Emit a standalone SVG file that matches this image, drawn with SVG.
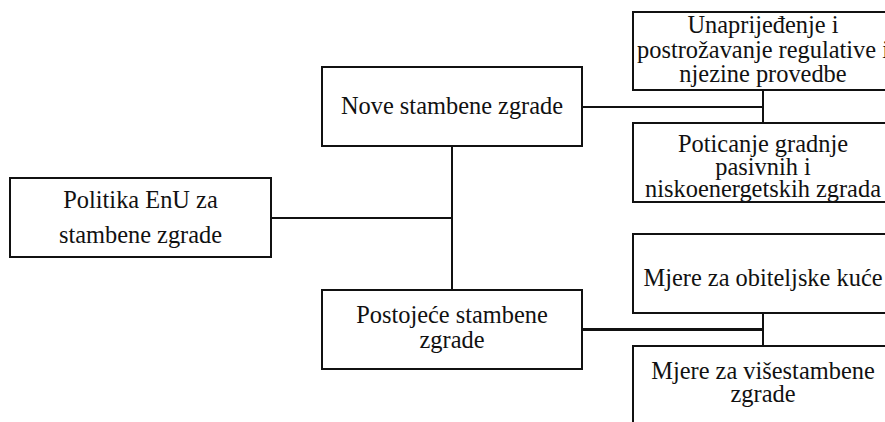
<svg xmlns="http://www.w3.org/2000/svg" width="885" height="422" viewBox="0 0 885 422">
<style>
.box{fill:#fff;stroke:#111;stroke-width:2}
.t{font-size:24.4px;fill:#111;text-anchor:middle}
.c{stroke:#111;stroke-width:2;fill:none}
</style>
<rect width="885" height="422" fill="#fff"/>
<g id="connectors">
<line class="c" x1="271" y1="218" x2="452" y2="218"/>
<line class="c" x1="452" y1="146" x2="452" y2="290"/>
<line class="c" x1="582" y1="107" x2="763" y2="107"/>
<line class="c" x1="763" y1="90" x2="763" y2="123"/>
<line class="c" x1="582" y1="329.5" x2="763" y2="329.5" style="stroke-width:3"/>
<line class="c" x1="763" y1="313" x2="763" y2="346"/>
</g>
<g font-family="'Liberation Serif', 'Times New Roman', 'DejaVu Serif', serif">
<g id="politika">
<rect class="box" x="10" y="178" width="261" height="79"/>
<text class="t" x="140.5" y="208">Politika EnU za</text>
<text class="t" x="140.5" y="243">stambene zgrade</text>
</g>
<g id="nove">
<rect class="box" x="322" y="67" width="260" height="79"/>
<text class="t" x="452" y="114">Nove stambene zgrade</text>
</g>
<g id="postojece">
<rect class="box" x="322" y="290" width="260" height="79"/>
<text class="t" x="452" y="322.5">Postojeće stambene</text>
<text class="t" x="452" y="348">zgrade</text>
</g>
<g id="unaprijedenje">
<rect class="box" x="633" y="12" width="260" height="78"/>
<text class="t" x="763" y="33">Unaprijeđenje i</text>
<text class="t" x="763" y="57.5">postrožavanje regulative  i</text>
<text class="t" x="763" y="82">njezine provedbe</text>
</g>
<g id="poticanje">
<rect class="box" x="633" y="123" width="260" height="79"/>
<text class="t" x="763" y="151.5">Poticanje gradnje</text>
<text class="t" x="763" y="175">pasivnih i</text>
<text class="t" x="763" y="197">niskoenergetskih zgrada</text>
</g>
<g id="obiteljske">
<rect class="box" x="633" y="234" width="260" height="79"/>
<text class="t" x="763" y="285.5">Mjere za obiteljske kuće</text>
</g>
<g id="visestambene">
<rect class="box" x="633" y="346" width="260" height="90"/>
<text class="t" x="763" y="379">Mjere za višestambene</text>
<text class="t" x="763" y="402">zgrade</text>
</g>
</g>
</svg>
